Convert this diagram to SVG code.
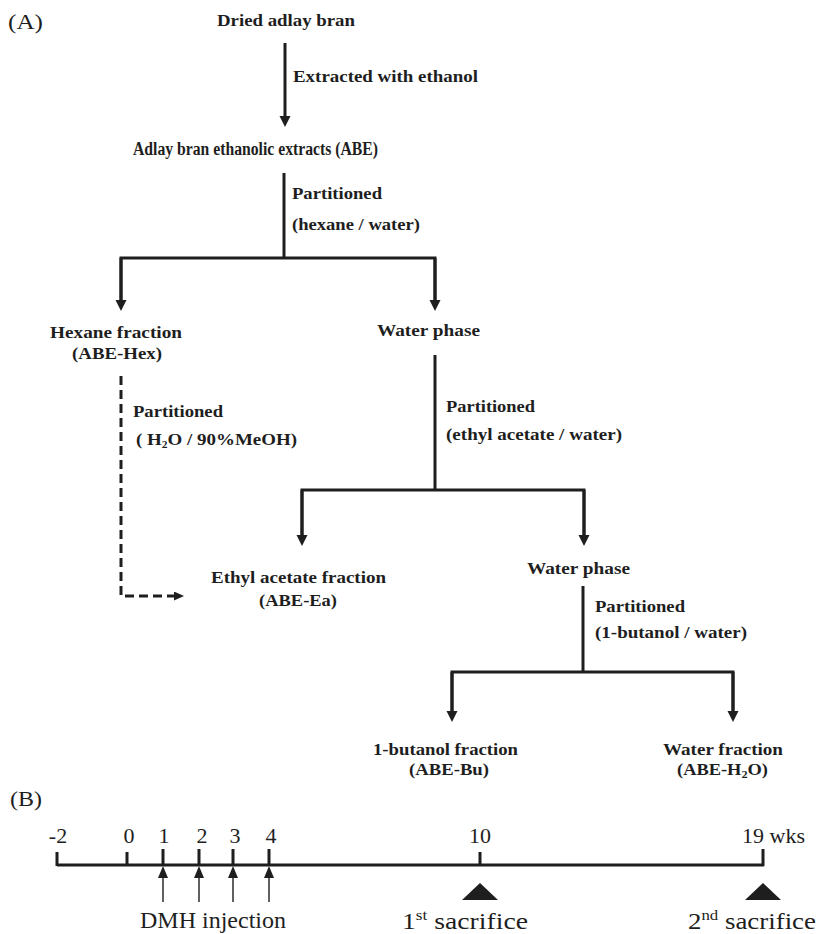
<svg xmlns="http://www.w3.org/2000/svg" width="820" height="934" viewBox="0 0 820 934">
<style>
.b{font-family:"Liberation Serif","Times New Roman",serif;font-weight:bold;font-size:16.5px;fill:#1e1e1e}
.r{font-family:"Liberation Serif","Times New Roman",serif;font-size:22px;fill:#1e1e1e}
.ln{stroke:#1e1e1e;stroke-width:3;fill:none}
.dash{stroke:#1e1e1e;stroke-width:3;fill:none;stroke-dasharray:9 5}
.thin{stroke:#1e1e1e;stroke-width:1.4;fill:none}
.fill{fill:#1e1e1e}
</style>
<defs>
<marker id="ah" markerUnits="userSpaceOnUse" markerWidth="12" markerHeight="12" refX="5" refY="5.5" orient="auto">
<path d="M0,0 L11,5.5 L0,11 z" fill="#1e1e1e"/>
</marker>
<marker id="ahs" markerUnits="userSpaceOnUse" markerWidth="12" markerHeight="10" refX="4" refY="4.5" orient="auto">
<path d="M0,0 L10,4.5 L0,9 z" fill="#1e1e1e"/>
</marker>
</defs>

<text class="r" x="8" y="29" textLength="35" lengthAdjust="spacingAndGlyphs">(A)</text>
<text class="r" x="10" y="806" textLength="32" lengthAdjust="spacingAndGlyphs">(B)</text>

<g id="connectors">
<line class="ln" x1="285" y1="43" x2="285" y2="121" marker-end="url(#ah)"/>
<line class="ln" x1="284" y1="173" x2="284" y2="258"/>
<polyline class="ln" points="121,305 121,258 435,258 435,305"/>
<line class="ln" x1="121" y1="258" x2="121" y2="305" marker-end="url(#ah)"/>
<line class="ln" x1="435" y1="258" x2="435" y2="305" marker-end="url(#ah)"/>
<path class="dash" d="M121,376 V596 H178" marker-end="url(#ahs)"/>
<line class="ln" x1="435" y1="355" x2="435" y2="490"/>
<polyline class="ln" points="302,540 302,490 584,490 584,540"/>
<line class="ln" x1="302" y1="490" x2="302" y2="540" marker-end="url(#ah)"/>
<line class="ln" x1="584" y1="490" x2="584" y2="540" marker-end="url(#ah)"/>
<line class="ln" x1="583" y1="586" x2="583" y2="672"/>
<polyline class="ln" points="452,716 452,672 733,672 733,716"/>
<line class="ln" x1="452" y1="672" x2="452" y2="716" marker-end="url(#ah)"/>
<line class="ln" x1="733" y1="672" x2="733" y2="716" marker-end="url(#ah)"/>
</g>

<g id="edge-labels">
<text class="b" x="293" y="82" textLength="185" lengthAdjust="spacingAndGlyphs">Extracted with ethanol</text>
<text class="b" x="292" y="199" textLength="90" lengthAdjust="spacingAndGlyphs">Partitioned</text>
<text class="b" x="292" y="230" textLength="128" lengthAdjust="spacingAndGlyphs">(hexane / water)</text>
<text class="b" x="133" y="417" textLength="90" lengthAdjust="spacingAndGlyphs">Partitioned</text>
<text class="b" x="136" y="445" textLength="161" lengthAdjust="spacingAndGlyphs">( H<tspan font-size="10" dy="3">2</tspan><tspan dy="-3">O / 90%MeOH)</tspan></text>
<text class="b" x="446" y="412" textLength="89" lengthAdjust="spacingAndGlyphs">Partitioned</text>
<text class="b" x="446" y="440" textLength="176" lengthAdjust="spacingAndGlyphs">(ethyl acetate / water)</text>
<text class="b" x="595" y="612" textLength="90" lengthAdjust="spacingAndGlyphs">Partitioned</text>
<text class="b" x="595" y="638" textLength="152" lengthAdjust="spacingAndGlyphs">(1-butanol / water)</text>
</g>

<g id="n-dried"><text class="b" x="217" y="26" textLength="138" lengthAdjust="spacingAndGlyphs">Dried adlay bran</text></g>
<g id="n-abe"><text class="b" x="133" y="155" style="font-size:18px" textLength="245" lengthAdjust="spacingAndGlyphs">Adlay bran ethanolic extracts (ABE)</text></g>
<g id="n-hex">
<text class="b" x="50" y="338" textLength="132" lengthAdjust="spacingAndGlyphs">Hexane fraction</text>
<text class="b" x="72" y="359" textLength="90" lengthAdjust="spacingAndGlyphs">(ABE-Hex)</text>
</g>
<g id="n-water1"><text class="b" x="377" y="336" textLength="103" lengthAdjust="spacingAndGlyphs">Water phase</text></g>
<g id="n-ea">
<text class="b" x="211" y="583" textLength="175" lengthAdjust="spacingAndGlyphs">Ethyl acetate fraction</text>
<text class="b" x="259" y="606" textLength="78" lengthAdjust="spacingAndGlyphs">(ABE-Ea)</text>
</g>
<g id="n-water2"><text class="b" x="527" y="574" textLength="103" lengthAdjust="spacingAndGlyphs">Water phase</text></g>
<g id="n-bu">
<text class="b" x="373" y="755" textLength="145" lengthAdjust="spacingAndGlyphs">1-butanol fraction</text>
<text class="b" x="409" y="775" textLength="80" lengthAdjust="spacingAndGlyphs">(ABE-Bu)</text>
</g>
<g id="n-h2o">
<text class="b" x="663" y="755" textLength="120" lengthAdjust="spacingAndGlyphs">Water fraction</text>
<text class="b" x="677" y="775" textLength="91" lengthAdjust="spacingAndGlyphs">(ABE-H<tspan font-size="11" dy="3">2</tspan><tspan dy="-3">O)</tspan></text>
</g>

<g id="timeline">
<line class="ln" x1="57" y1="865" x2="764" y2="865"/>
<path class="ln" d="M57,852 V866 M127,852 V866 M163,849 V866 M199,849 V866 M233,849 V866 M269,849 V866 M480,852 V866 M763,849 V866"/>
<text class="r" x="58" y="843" text-anchor="middle">-2</text>
<text class="r" x="129" y="843" text-anchor="middle">0</text>
<text class="r" x="164" y="843" text-anchor="middle">1</text>
<text class="r" x="202" y="843" text-anchor="middle">2</text>
<text class="r" x="235" y="843" text-anchor="middle">3</text>
<text class="r" x="271" y="843" text-anchor="middle">4</text>
<text class="r" x="480" y="843" text-anchor="middle">10</text>
<text class="r" x="742" y="843">19 wks</text>
</g>

<g id="dmh">
<path class="thin" d="M163,902 V876 M199,902 V876 M233,902 V876 M269,902 V876"/>
<path class="fill" d="M163,866 L168,878 L158,878 z M199,866 L204,878 L194,878 z M233,866 L238,878 L228,878 z M269,866 L274,878 L264,878 z"/>
<text class="r" x="140" y="928" style="font-size:23px" textLength="146" lengthAdjust="spacingAndGlyphs">DMH injection</text>
</g>
<g id="sac1">
<path class="fill" d="M480,883 L498,900 L462,900 z"/>
<text class="r" x="402" y="929" style="font-size:24px" textLength="126" lengthAdjust="spacingAndGlyphs">1<tspan font-size="15" dy="-9">st</tspan><tspan dy="9"> sacrifice</tspan></text>
</g>
<g id="sac2">
<path class="fill" d="M763,883 L781,900 L745,900 z"/>
<text class="r" x="688" y="929" style="font-size:24px" textLength="128" lengthAdjust="spacingAndGlyphs">2<tspan font-size="15" dy="-9">nd</tspan><tspan dy="9"> sacrifice</tspan></text>
</g>
</svg>
